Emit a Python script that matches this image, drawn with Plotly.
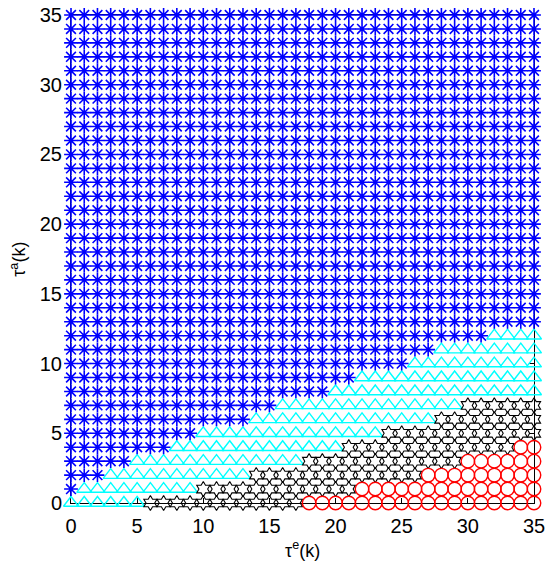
import plotly.graph_objects as go

# Grid of delays
tau_e = list(range(0, 36))   # x values
tau_a = list(range(0, 36))   # y values

# Per-row (tau_a = 0..) boundaries
# largest tau_e that is shown as blue asterisk (rows 0..12; -1 = none, rows >= 13 all blue)
blue_edge = [-1, 0, 2, 4, 7, 9, 13, 15, 19, 21, 25, 27, 31]
# first tau_e that is shown as black hexagram (rows 0..7)
black_start = [6, 10, 14, 18, 21, 24, 28, 30]
# first tau_e that is shown as red circle (rows 0..4)
red_start = [18, 22, 27, 30, 34]

x_title = "τ<sup>e</sup>(k)"
y_title = "τ<sup>a</sup>(k)"

groups = {"blue": ([], []), "cyan": ([], []), "black": ([], []), "red": ([], [])}
for y in tau_a:
    be = blue_edge[y] if y < len(blue_edge) else max(tau_e)
    bs = black_start[y] if y < len(black_start) else max(tau_e) + 1
    rs = red_start[y] if y < len(red_start) else max(tau_e) + 1
    for x in tau_e:
        if x <= be:
            g = "blue"
        elif x >= rs:
            g = "red"
        elif x >= bs:
            g = "black"
        else:
            g = "cyan"
        groups[g][0].append(x)
        groups[g][1].append(y)

styles = {
    "blue": dict(symbol="asterisk-open", size=11.5, color="rgb(0,0,255)", w=1.6),
    "cyan": dict(symbol="triangle-up-open", size=13, color="rgb(0,255,255)", w=1.4),
    "black": dict(symbol="hexagram-open", size=11.5, color="black", w=1.1),
    "red": dict(symbol="circle-open", size=13.5, color="rgb(255,0,0)", w=1.4),
}

fig = go.Figure()
for name in ["cyan", "black", "red", "blue"]:
    xs, ys = groups[name]
    st = styles[name]
    fig.add_trace(go.Scatter(
        x=xs, y=ys, mode="markers", cliponaxis=False, showlegend=False,
        hoverinfo="skip",
        marker=dict(symbol=st["symbol"], size=st["size"], color=st["color"],
                    line=dict(color=st["color"], width=st["w"])),
    ))

tick_font = dict(family="Liberation Sans, Arial, Helvetica, sans-serif", size=20, color="black")
title_font = dict(family="Liberation Sans, Arial, Helvetica, sans-serif", size=18, color="black")
axis_common = dict(
    range=[0, 35], dtick=5, tick0=0, showgrid=False, zeroline=False,
    showline=True, linecolor="black", linewidth=1, mirror="ticks",
    ticks="inside", ticklen=5, tickcolor="black", tickwidth=1,
    layer="below traces", tickfont=tick_font, automargin=False,
    ticklabeloverflow="allow",
)
fig.update_layout(
    width=550, height=574,
    margin=dict(l=70.5, r=16, t=15, b=70.7, pad=0),
    paper_bgcolor="white", plot_bgcolor="white",
    font=tick_font,
    xaxis=dict(**axis_common, ticklabelstandoff=5),
    yaxis=dict(**axis_common, ticklabelstandoff=4),
    annotations=[
        dict(text=x_title, x=0.5, y=-0.096, xref="paper", yref="paper",
             xanchor="center", yanchor="middle", showarrow=False, font=title_font),
        dict(text=y_title, x=-0.115, y=0.50, xref="paper", yref="paper",
             xanchor="center", yanchor="middle", showarrow=False, font=title_font,
             textangle=-90),
    ],
)
# remove the default 8px page margin so the figure fills the window
fig.write_html("out.html", config={"displayModeBar": False},
               post_script="document.body.style.margin='0';")
